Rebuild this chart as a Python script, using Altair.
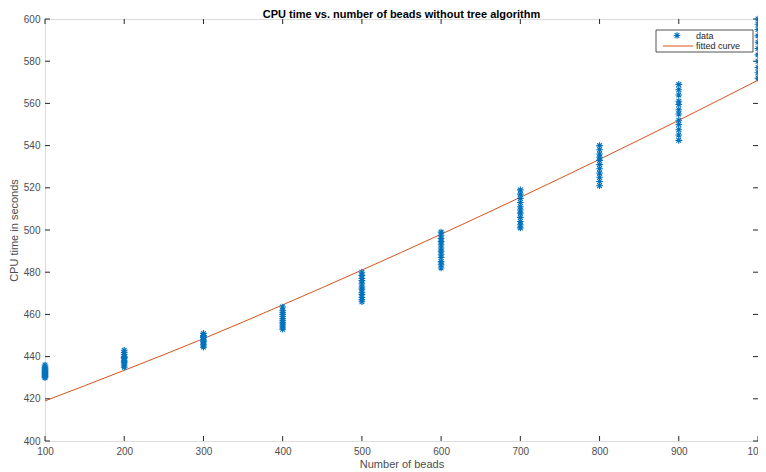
import altair as alt
import pandas as pd

# ---- data ----
beads = [100, 200, 300, 400, 500, 600, 700, 800, 900, 1000]
cpu_100 = [430.0, 430.5, 431.0, 431.5, 432.0, 432.5, 433.0, 433.5, 434.0, 434.5, 435.0, 436.0]
cpu_200 = [435.0, 436.0, 437.0, 437.5, 438.0, 439.0, 439.5, 440.0, 441.0, 442.0, 443.0]
cpu_300 = [444.5, 445.5, 446.0, 447.0, 447.5, 448.0, 449.0, 449.5, 450.0, 451.0]
cpu_400 = [453.0, 454.0, 455.0, 456.0, 457.0, 458.0, 459.0, 460.0, 461.0, 462.0, 463.5]
cpu_500 = [466.0, 467.0, 468.0, 469.5, 470.5, 472.0, 473.0, 474.5, 476.0, 477.0, 478.5, 480.0]
cpu_600 = [482.0, 483.5, 485.0, 487.0, 488.5, 490.0, 491.5, 493.0, 494.5, 496.0, 497.5, 499.0]
cpu_700 = [501.0, 502.5, 504.0, 506.0, 508.0, 509.5, 511.0, 513.0, 515.0, 517.0, 519.0]
cpu_800 = [521.0, 523.0, 525.0, 527.0, 529.0, 531.0, 533.0, 534.5, 536.0, 538.0, 540.0]
cpu_900 = [542.5, 545.0, 547.5, 550.0, 552.0, 555.0, 557.0, 559.5, 561.0, 564.0, 566.5, 569.0]
cpu_1000 = [572.0, 574.5, 577.0, 580.0, 583.0, 586.0, 589.0, 592.0, 595.0, 597.5, 600.0]
fit_beads = [100, 200, 300, 400, 500, 600, 700, 800, 900, 1000]
fit_cpu = [419.0, 433.5, 448.5, 464.5, 481.0, 498.0, 515.5, 533.5, 552.0, 571.0]
x_ticks = [100, 200, 300, 400, 500, 600, 700, 800, 900, 1000]
y_ticks = [400, 420, 440, 460, 480, 500, 520, 540, 560, 580, 600]

clusters = [cpu_100, cpu_200, cpu_300, cpu_400, cpu_500,
            cpu_600, cpu_700, cpu_800, cpu_900, cpu_1000]
rows = []
for b, vals in zip(beads, clusters):
    for v in vals:
        rows.append({"beads": b, "cpu": v})
df = pd.DataFrame(rows)
fit_df = pd.DataFrame({"beads": fit_beads, "cpu": fit_cpu})
xt_df = pd.DataFrame({"t": x_ticks})
yt_df = pd.DataFrame({"t": y_ticks})

W, H = 713, 422
BLUE = "#0072BD"
ORANGE = "#D95319"
FONT = "Liberation Sans"
ASTERISK = "M-1,0L1,0M0,-1L0,1M-0.7,-0.7L0.7,0.7M-0.7,0.7L0.7,-0.7"

xscale = alt.Scale(domain=[100, 1000], nice=False, zero=False)
yscale = alt.Scale(domain=[400, 600], nice=False, zero=False)

xaxis = alt.Axis(values=x_ticks, title="Number of beads", grid=False, tickSize=0,
                 domain=False, labelPadding=5, titlePadding=2, labelFontSize=10,
                 titleFontSize=11, titleFontWeight="normal", labelFont=FONT,
                 titleFont=FONT, labelColor="#4d4d4d", titleColor="#4d4d4d",
                 format="d", labelFlush=False)
yaxis = alt.Axis(values=y_ticks, title="CPU time in seconds", grid=False, tickSize=0,
                 domain=False, labelPadding=5, titlePadding=4, labelFontSize=10,
                 titleFontSize=11, titleFontWeight="normal", labelFont=FONT,
                 titleFont=FONT, labelColor="#4d4d4d", titleColor="#4d4d4d",
                 format="d")

points = alt.Chart(df).mark_point(shape=ASTERISK, filled=False, size=45,
                                  strokeWidth=1.1, color=BLUE, opacity=1).encode(
    x=alt.X("beads:Q", scale=xscale, axis=xaxis),
    y=alt.Y("cpu:Q", scale=yscale, axis=yaxis),
)

line = alt.Chart(fit_df).mark_line(color=ORANGE, strokeWidth=1, interpolate="monotone").encode(
    x=alt.X("beads:Q", scale=xscale),
    y=alt.Y("cpu:Q", scale=yscale),
)

TL = 5
tick_color = "#262626"
xt_bot = alt.Chart(xt_df).mark_rule(color=tick_color, strokeWidth=1).encode(
    x=alt.X("t:Q", scale=xscale), y=alt.value(H), y2=alt.value(H - TL))
xt_top = alt.Chart(xt_df).mark_rule(color=tick_color, strokeWidth=1).encode(
    x=alt.X("t:Q", scale=xscale), y=alt.value(0), y2=alt.value(TL))
yt_left = alt.Chart(yt_df).mark_rule(color=tick_color, strokeWidth=1).encode(
    y=alt.Y("t:Q", scale=yscale), x=alt.value(0), x2=alt.value(TL))
yt_right = alt.Chart(yt_df).mark_rule(color=tick_color, strokeWidth=1).encode(
    y=alt.Y("t:Q", scale=yscale), x=alt.value(W), x2=alt.value(W - TL))

# legend (manual)
leg_df = pd.DataFrame({"label": ["data"]})
LX = W - 102
leg_box = alt.Chart(leg_df).mark_rect(fill="white", stroke="#262626", strokeWidth=0.8).encode(
    x=alt.value(LX), x2=alt.value(LX + 97), y=alt.value(11), y2=alt.value(33))
leg_pt = alt.Chart(leg_df).mark_point(shape=ASTERISK, filled=False, size=45,
                                      strokeWidth=1.1, color=BLUE, opacity=1).encode(
    x=alt.value(LX + 21), y=alt.value(16.5))
leg_line = alt.Chart(leg_df).mark_rule(color=ORANGE, strokeWidth=1).encode(
    x=alt.value(LX + 7), x2=alt.value(LX + 37), y=alt.value(27))
leg_t1 = alt.Chart(leg_df).mark_text(align="left", baseline="middle", fontSize=9,
                                     font=FONT, color="#262626").encode(
    x=alt.value(LX + 40), y=alt.value(16.5), text=alt.value("data"))
leg_t2 = alt.Chart(leg_df).mark_text(align="left", baseline="middle", fontSize=9,
                                     font=FONT, color="#262626").encode(
    x=alt.value(LX + 40), y=alt.value(27), text=alt.value("fitted curve"))

chart = alt.layer(
    xt_bot, xt_top, yt_left, yt_right, line, points,
    leg_box, leg_pt, leg_line, leg_t1, leg_t2
).properties(
    width=W, height=H,
    title=alt.TitleParams("CPU time vs. number of beads without tree algorithm",
                          fontSize=11, fontWeight="bold", font=FONT, color="#000000",
                          offset=-7, anchor="middle"),
    padding={"left": 37, "top": 11, "right": 0, "bottom": 28},
    autosize=alt.AutoSizeParams(type="none"),
).configure_view(
    stroke="#262626", strokeWidth=1
).configure(background="white")

chart.save("out.html", embed_options={"renderer": "svg", "actions": False})
